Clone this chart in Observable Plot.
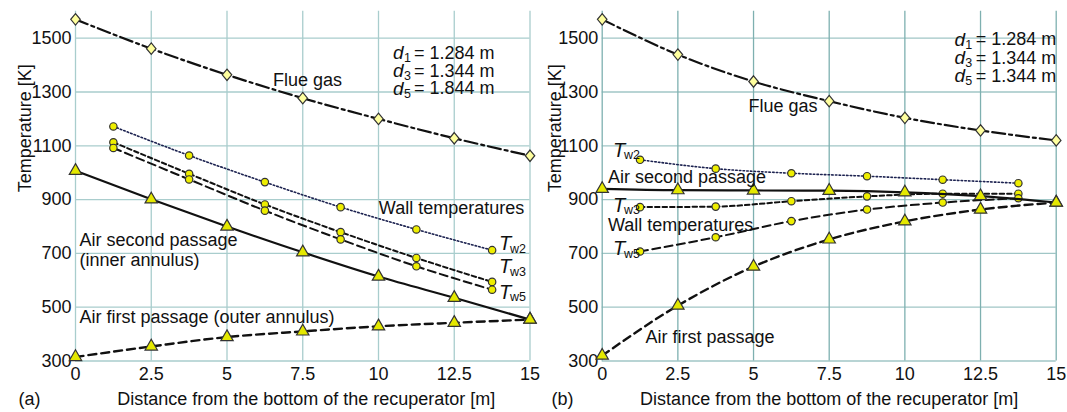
<!DOCTYPE html>
<html><head><meta charset="utf-8">
<script src="https://cdn.jsdelivr.net/npm/d3@7"></script>
<script src="https://cdn.jsdelivr.net/npm/@observablehq/plot@0.6"></script>
<style>
body{margin:0;background:#fff;}
#wrap{display:flex;width:1067px;height:412px;overflow:hidden;}
#wrap svg{overflow:visible;flex:none;}
</style></head><body><div id="wrap"></div>
<script>
// ---- data ----
const xGas = [0, 2.5, 5, 7.5, 10, 12.5, 15];
const xWall = [1.25, 3.75, 6.25, 8.75, 11.25, 13.75];
const xTicks = [0, 2.5, 5, 7.5, 10, 12.5, 15];
const yTicks = [300, 500, 700, 900, 1100, 1300, 1500];

// panel (a)
const aFlueGas = [1570, 1461, 1364, 1277, 1200, 1128, 1063];
const aTw2 = [1172, 1064, 965, 872, 789, 712];
const aTw3 = [1113, 996, 882, 779, 683, 594];
const aTw5 = [1092, 975, 859, 752, 652, 565];
const aAir2 = [1007, 901, 800, 704, 614, 535, 454];
const aAir1 = [315, 354, 389, 410, 429, 442, 454];
const aDiam = ["1.284", "1.344", "1.844"];

// panel (b)
const bFlueGas = [1570, 1439, 1339, 1266, 1204, 1157, 1120];
const bTw2 = [1048, 1015, 998, 987, 974, 961];
const bTw3 = [872, 874, 894, 912, 922, 922];
const bTw5 = [707, 760, 820, 863, 889, 905];
const bAir2 = [940, 935, 934, 933, 927, 913, 889];
const bAir1 = [320, 506, 651, 752, 819, 863, 889];
const bDiam = ["1.284", "1.344", "1.344"];

const dSubs = ["1", "3", "5"];
const xTitle = "Distance from the bottom of the recuperator [m]";
const yTitle = "Temperature [K]";

// ---- helpers ----
const FONT = "'Liberation Sans', Arial, Helvetica, sans-serif";
const rows = (xs, ys) => xs.map((x, i) => ({x, y: ys[i]}));
const diamond = {
  draw(ctx, size) {
    const a = Math.sqrt(size / 2), b = a * 1.2;
    ctx.moveTo(0, -b); ctx.lineTo(a, 0); ctx.lineTo(0, b); ctx.lineTo(-a, 0); ctx.closePath();
  }
};
const styles = {
  gas:  {stroke: "#111", strokeWidth: 2.2, strokeDasharray: "13,4,3,4", symbol: diamond, r: 3.8, fill: "#ffff9e"},
  tw2:  {stroke: "#1c2250", strokeWidth: 1.6, strokeDasharray: "1.5,2.2", symbol: "circle", r: 3.7, fill: "#eeee00"},
  tw3:  {stroke: "#111", strokeWidth: 2, strokeDasharray: "4.5,3", symbol: "circle", r: 3.7, fill: "#eeee00"},
  tw5:  {stroke: "#111", strokeWidth: 2, strokeDasharray: "8,4.5", symbol: "circle", r: 3.7, fill: "#eeee00"},
  air2: {stroke: "#111", strokeWidth: 2.2, strokeDasharray: null, symbol: "triangle", r: 4.6, fill: "#e4e800"},
  air1: {stroke: "#111", strokeWidth: 2.4, strokeDasharray: "8,5", symbol: "triangle", r: 4.6, fill: "#e4e800"}
};

function seriesMarks(data, st) {
  const line = {x: "x", y: "y", stroke: st.stroke, strokeWidth: st.strokeWidth, curve: "monotone-x"};
  if (st.strokeDasharray) line.strokeDasharray = st.strokeDasharray;
  return [
    Plot.line(data, line),
    Plot.dot(data, {x: "x", y: "y", symbol: st.symbol, r: st.r, fill: st.fill, stroke: "#333", strokeWidth: 1.2})
  ];
}

function tLabel(list) {
  return [
    Plot.text(list, {x: "x", y: "y", text: () => "T", fontStyle: "italic", fontSize: 20, textAnchor: "start", fill: "#111"}),
    Plot.text(list, {x: "x", y: "y", text: "sub", fontSize: 12.5, textAnchor: "start", dx: 11, dy: 5, fill: "#111"})
  ];
}

function panel(o) {
  const s = o.series;
  const marks = [
    Plot.ruleY(yTicks, {stroke: o.gridH, strokeWidth: 1.3}),
    Plot.ruleX(xTicks, {stroke: o.gridV, strokeWidth: 1.3}),
    ...seriesMarks(rows(xGas, s.gas), styles.gas),
    ...seriesMarks(rows(xWall, s.tw2), styles.tw2),
    ...seriesMarks(rows(xWall, s.tw3), styles.tw3),
    ...seriesMarks(rows(xWall, s.tw5), styles.tw5),
    ...seriesMarks(rows(xGas, s.air2), styles.air2),
    ...seriesMarks(rows(xGas, s.air1), styles.air1),
    Plot.text(o.labels, {x: "x", y: "y", text: "text", fontSize: 18, textAnchor: "start", fill: "#111"}),
    Plot.text(o.labelsEnd, {x: "x", y: "y", text: "text", fontSize: 18, textAnchor: "end", fill: "#111"}),
    ...tLabel(o.tLabels),
    ...o.dMarks,
    Plot.text([yTitle], {frameAnchor: "top-left", text: d => d, rotate: -90, textAnchor: "middle", dx: o.yTitleDx, dy: 117, fontSize: 18, fill: "#111"}),
    Plot.text([xTitle], {frameAnchor: "bottom", text: d => d, lineAnchor: "top", dy: 31, dx: o.xTitleDx, fontSize: 18, fill: "#111"}),
    Plot.text([o.tag], {frameAnchor: "bottom-left", text: d => d, lineAnchor: "top", textAnchor: "start", dy: 31, dx: o.tagDx, fontSize: 18, fill: "#111"})
  ];
  return Plot.plot({
    width: o.width, height: 412,
    marginLeft: o.marginLeft, marginRight: o.marginRight, marginTop: 10.8, marginBottom: 51.5,
    style: {fontFamily: FONT, fontSize: "18px", background: "white", color: "#111", overflow: "visible"},
    x: {domain: [0, 15], ticks: xTicks, tickSize: 0, tickPadding: 6, tickFormat: d => String(d), label: null},
    y: {domain: [300, 1600], ticks: yTicks, tickSize: 0, tickPadding: 4, tickFormat: d => String(d), label: null},
    marks
  });
}

// d labels panel (a): start-anchored
const aD = dSubs.map((sub, i) => ({x: 10.48, y: [1444, 1379, 1313][i], sub, val: "= " + aDiam[i] + " m"}));
const aDMarks = [
  Plot.text(aD, {x: "x", y: "y", text: () => "d", fontStyle: "italic", fontSize: 19, textAnchor: "start", fill: "#111"}),
  Plot.text(aD, {x: "x", y: "y", text: "sub", fontSize: 12.5, textAnchor: "start", dx: 11, dy: 5, fill: "#111"}),
  Plot.text(aD, {x: "x", y: "y", text: "val", fontSize: 18, textAnchor: "start", dx: 21, fill: "#111"})
];
// d labels panel (b): end-anchored
const bD = dSubs.map((sub, i) => ({x: 15, y: [1495, 1426, 1358][i], sub, val: "= " + bDiam[i] + " m"}));
const bDMarks = [
  Plot.text(bD, {x: "x", y: "y", text: () => "d", fontStyle: "italic", fontSize: 19, textAnchor: "end", dx: -91, fill: "#111"}),
  Plot.text(bD, {x: "x", y: "y", text: "sub", fontSize: 12.5, textAnchor: "end", dx: -84, dy: 5, fill: "#111"}),
  Plot.text(bD, {x: "x", y: "y", text: "val", fontSize: 18, textAnchor: "end", fill: "#111"})
];

const pa = panel({
  width: 540, marginLeft: 75, marginRight: 10.5,
  gridH: "#a9cdcd", gridV: "#a9cdcd",
  series: {gas: aFlueGas, tw2: aTw2, tw3: aTw3, tw5: aTw5, air2: aAir2, air1: aAir1},
  labels: [
    {x: 6.52, y: 1343, text: "Flue gas"},
    {x: 0.13, y: 748, text: "Air second passage"},
    {x: 0.13, y: 674, text: "(inner annulus)"},
    {x: 0.13, y: 463, text: "Air first passage (outer annulus)"}
  ],
  labelsEnd: [{x: 14.81, y: 869, text: "Wall temperatures"}],
  tLabels: [
    {x: 13.98, y: 736, sub: "w2"},
    {x: 13.98, y: 651, sub: "w3"},
    {x: 13.98, y: 556, sub: "w5"}
  ],
  dMarks: aDMarks,
  yTitleDx: -57, xTitleDx: 3.5, tag: "(a)", tagDx: -57
});

const pb = panel({
  width: 527, marginLeft: 61.7, marginRight: 11.3,
  gridH: "#a0c6c6", gridV: "#7eb0b0",
  series: {gas: bFlueGas, tw2: bTw2, tw3: bTw3, tw5: bTw5, air2: bAir2, air1: bAir1},
  labels: [
    {x: 4.83, y: 1247, text: "Flue gas"},
    {x: 0.19, y: 985, text: "Air second passage"},
    {x: 0.19, y: 805, text: "Wall temperatures"},
    {x: 1.43, y: 389, text: "Air first passage"}
  ],
  labelsEnd: [],
  tLabels: [
    {x: 0.36, y: 1083, sub: "w2"},
    {x: 0.36, y: 879, sub: "w3"},
    {x: 0.36, y: 717, sub: "w5"}
  ],
  dMarks: bDMarks,
  yTitleDx: -53.7, xTitleDx: 0, tag: "(b)", tagDx: -50.7
});

document.getElementById("wrap").append(pa, pb);
</script></body></html>
